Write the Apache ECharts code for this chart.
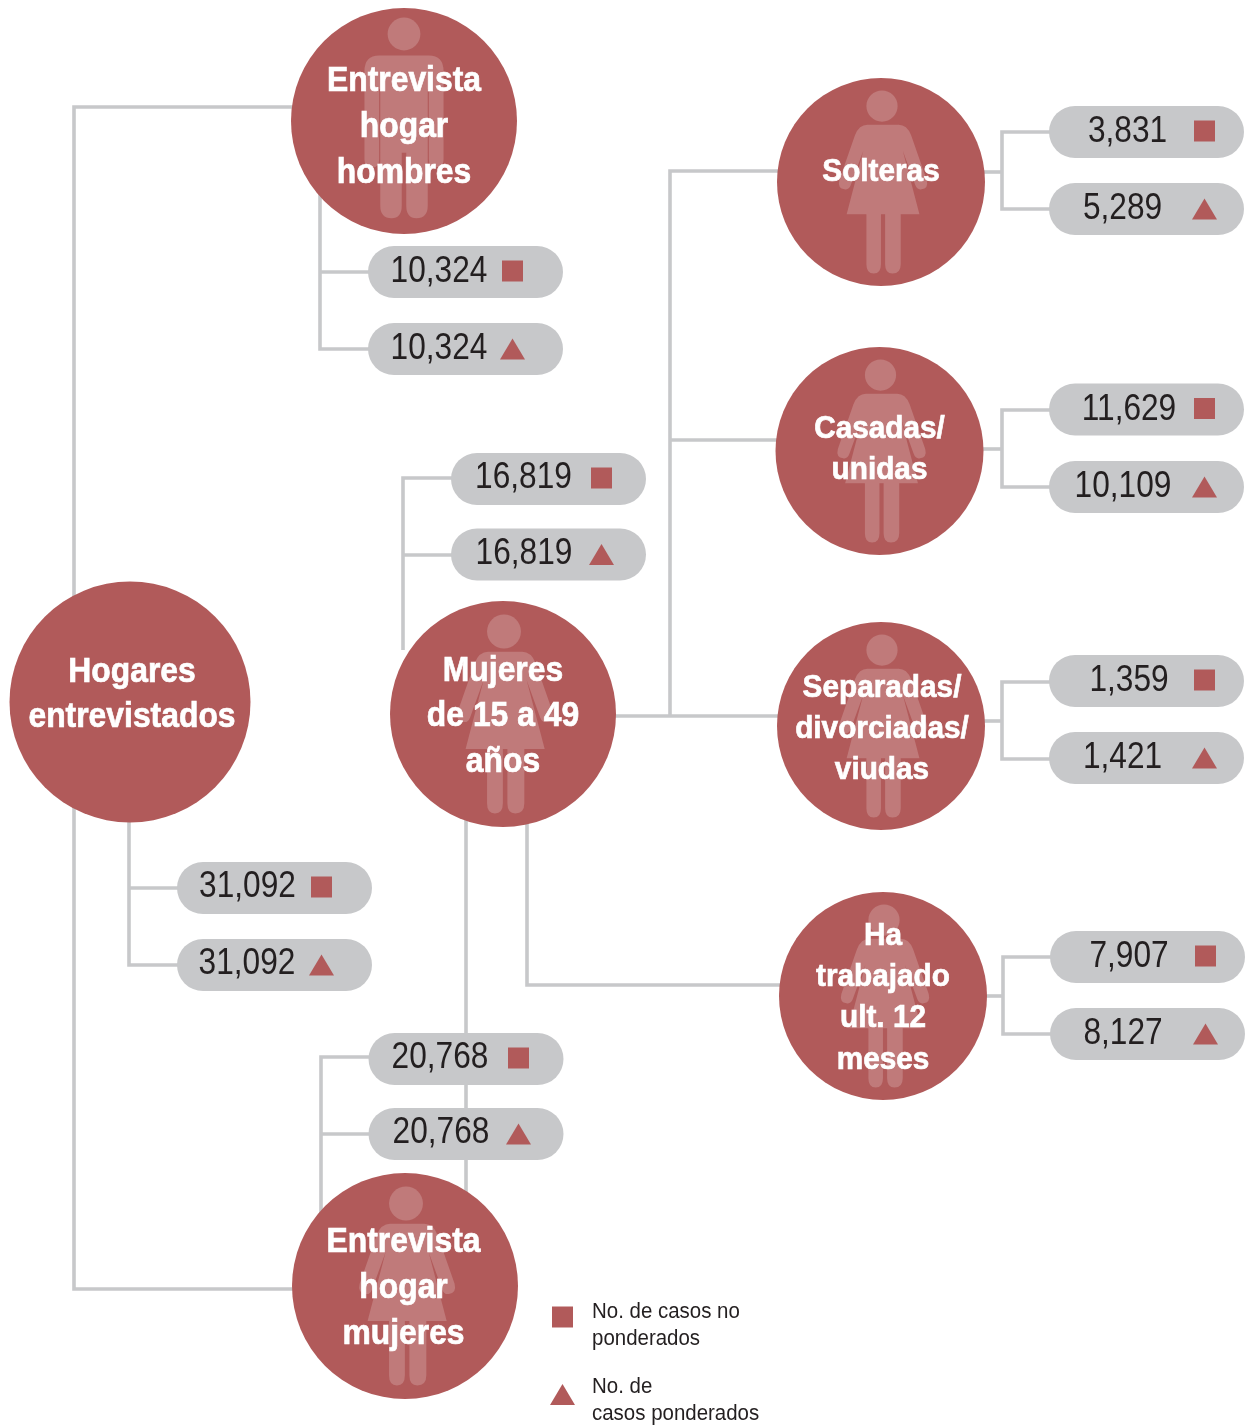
<!DOCTYPE html>
<html>
<head>
<meta charset="utf-8">
<style>html,body{margin:0;padding:0;background:#fff}#chart{width:1252px;height:1425px}</style>
<script src="https://cdn.jsdelivr.net/npm/echarts@6/dist/echarts.min.js"></script>
</head>
<body>
<div id="chart"></div>
<script>
// datos
var nodeNames = ['Hogares\nentrevistados', 'Entrevista\nhogar\nhombres', 'Mujeres\nde 15 a 49\naños', 'Entrevista\nhogar\nmujeres',
    'Solteras', 'Casadas/\nunidas', 'Separadas/\ndivorciadas/\nviudas', 'Ha\ntrabajado\nult. 12\nmeses'];
var noPonderados = [31092, 10324, 16819, 20768, 3831, 11629, 1359, 7907];
var ponderados = [31092, 10324, 16819, 20768, 5289, 10109, 1421, 8127];
var legendNames = ['No. de casos no\nponderados', 'No. de\ncasos ponderados'];

// posiciones en el lienzo, una fila por nodo
var RED = '#b15a5a', GREY = '#c7c8ca';
var nodePos = [ // x, y, radio, figura, x del texto, y del texto, interlinea, fuente
    [130, 702, 120.5, '', 132, 694.5, 45, 35],
    [404, 121, 113, 'h', 404, 127, 46, 35],
    [503, 714, 113, 'm', 503, 716.5, 45.5, 35],
    [405, 1286, 113, 'm', 403.5, 1288, 46, 35],
    [881, 182, 104, 'm', 881, 172, 41, 32],
    [879.5, 451, 104, 'm', 879.5, 449.5, 41, 32],
    [881, 726, 104, 'm', 882, 729, 41, 32],
    [883, 996, 104, 'm', 883, 998, 41.3, 32]
];
var pillPos = [ // izquierda, y fila 1, y fila 2, centro numero 1, centro numero 2, x marca, ajuste y del numero
    [177, 888, 965, 247.5, 247, 321.5, -2],
    [368, 272, 349, 439, 439, 512.5, -1],
    [451, 479, 554.5, 523.5, 524, 601.5, -2],
    [368.5, 1059, 1134, 440, 441, 518.5, -2],
    [1049, 132, 209, 1127.5, 1122.5, 1204.5, -1],
    [1049, 409.5, 487, 1129, 1123, 1204.5, -1],
    [1049, 681, 758, 1129, 1122.5, 1204.5, -1],
    [1050, 957, 1034, 1129, 1123, 1205.5, -1]
];
var connectors = [
    [[74, 600], [74, 107], [295, 107]],
    [[74, 805], [74, 1289], [295, 1289]],
    [[129, 815], [129, 965], [180, 965]],
    [[129, 888], [180, 888]],
    [[320, 190], [320, 349], [372, 349]],
    [[320, 272], [372, 272]],
    [[403, 650], [403, 478], [455, 478]],
    [[403, 555], [455, 555]],
    [[466, 820], [466, 1195]],
    [[527, 820], [527, 985], [785, 985]],
    [[321, 1215], [321, 1057], [372, 1057]],
    [[321, 1134], [372, 1134]],
    [[610, 716], [782, 716]],
    [[670, 716], [670, 171], [782, 171]],
    [[670, 440], [780, 440]],
    [[980, 172], [1002, 172]],
    [[1052, 132], [1002, 132], [1002, 209], [1052, 209]],
    [[980, 449], [1002, 449]],
    [[1052, 410], [1002, 410], [1002, 487], [1052, 487]],
    [[980, 721], [1002, 721]],
    [[1052, 682], [1002, 682], [1002, 759], [1052, 759]],
    [[982, 996], [1003, 996]],
    [[1053, 957], [1003, 957], [1003, 1034], [1053, 1034]]
];

// siluetas, unidades con radio 100
var BOX = 'M-130 -130L-130 -130M130 130L130 130';
var manPath = BOX + 'M-22 -58L22 -58Q35 -58 35 -44L35 34Q35 41 28 41Q22 41 22 34L22 -28L21 -28L21 75Q21 86 11 86Q2 86 2 75L2 28L-2 28L-2 75Q-2 86 -11 86Q-21 86 -21 75L-21 -28L-22 -28L-22 34Q-22 41 -28 41Q-35 41 -35 34L-35 -44Q-35 -58 -22 -58Z';
var womanPath = BOX + 'M-14 -55L16 -55Q24 -55 28 -45L43 -2Q45 6 38 7Q34 8 32 3L20 -30L36 31L18 31L18 79Q18 88 10 88Q3 88 3 79L3 31L-1 31L-1 79Q-1 88 -8 88Q-15 88 -15 79L-15 31L-34 31L-18 -30L-30 3Q-32 8 -36 7Q-43 6 -41 -2L-26 -45Q-22 -55 -14 -55Z';
var headY = {h: -77, m: -73}, headR = {h: 14.5, m: 15};

function fmt(v) {
    return String(v).replace(/\B(?=(\d{3})+$)/g, ',');
}

function textEl(api, x, y, text, font, fill, sx, lineHeight, stroke) {
    var p = api.coord([x, y]);
    return {
        type: 'text', x: p[0], y: p[1], scaleX: sx,
        style: {text: text, font: font, fill: fill, align: 'center', verticalAlign: 'middle', lineHeight: lineHeight,
            stroke: stroke || null, lineWidth: stroke ? 0.7 : 0}
    };
}

var BOLD = 'bold {s}px "Liberation Sans"';
var PLAIN = '{s}px "Liberation Sans"';

var markSquare = [], markTriangle = [];
pillPos.forEach(function (p) {
    markSquare.push([p[5], p[1] - 1]);
    markTriangle.push([p[5], p[2]]);
});

var option = {
    animation: false,
    backgroundColor: '#fff',
    grid: {left: 0, right: 0, top: 0, bottom: 0},
    xAxis: {type: 'value', min: 0, max: 1252, show: false},
    yAxis: {type: 'value', min: 0, max: 1425, inverse: true, show: false},
    series: [
        {
            name: 'conectores', type: 'custom', z: 1, silent: true,
            data: connectors.map(function (c, i) { return [c[0][0], c[0][1], i]; }),
            renderItem: function (params, api) {
                var pts = connectors[api.value(2)].map(function (q) { return api.coord(q); });
                return {type: 'polyline', shape: {points: pts}, style: {stroke: GREY, lineWidth: 3.6, fill: null}};
            }
        },
        {
            name: 'nodos', type: 'custom', z: 2, silent: true,
            data: nodePos.map(function (n) { return [n[0], n[1], n[2]]; }),
            renderItem: function (params, api) {
                var n = nodePos[params.dataIndex];
                var c = api.coord([api.value(0), api.value(1)]), r = api.value(2), s = r / 100;
                var kids = [{type: 'circle', shape: {cx: c[0], cy: c[1], r: r}, style: {fill: RED}}];
                if (n[3]) {
                    var dx = n[3] === 'm' ? 1 : 0;
                    kids.push({type: 'circle', shape: {cx: c[0] + dx, cy: c[1] + headY[n[3]] * s, r: headR[n[3]] * s}, style: {fill: '#c07a7a'}});
                    kids.push({
                        type: 'path',
                        shape: {pathData: n[3] === 'm' ? womanPath : manPath, x: c[0] + dx - 130 * s, y: c[1] - 130 * s, width: 260 * s, height: 260 * s, layout: 'cover'},
                        style: {fill: '#c07a7a'}
                    });
                }
                kids.push(textEl(api, n[4], n[5], nodeNames[params.dataIndex], BOLD.replace('{s}', n[7]), '#fff', n[7] === 35 ? 0.91 : 0.93, n[6], '#fff'));
                return {type: 'group', children: kids};
            }
        },
        {
            name: 'casos', type: 'custom', z: 3, silent: true,
            data: pillPos.map(function (p, i) { return [p[0], noPonderados[i], ponderados[i]]; }),
            renderItem: function (params, api) {
                var p = pillPos[params.dataIndex], kids = [];
                [[p[1], p[3], api.value(1)], [p[2], p[4], api.value(2)]].forEach(function (row) {
                    var a = api.coord([p[0], row[0] - 26]);
                    kids.push({type: 'rect', shape: {x: a[0], y: a[1], width: 195, height: 52, r: 26}, style: {fill: GREY}});
                    kids.push(textEl(api, row[1], row[0] + 1 + p[6], fmt(row[2]), PLAIN.replace('{s}', 37), '#231f20', 0.855));
                });
                return {type: 'group', children: kids};
            }
        },
        {
            name: legendNames[0], type: 'scatter', z: 4, silent: true, symbol: 'rect', symbolSize: 21,
            itemStyle: {color: RED, opacity: 1},
            data: markSquare.concat([[562.5, 1317]])
        },
        {
            name: legendNames[1], type: 'scatter', z: 4, silent: true, symbol: 'triangle', symbolSize: [25, 21],
            itemStyle: {color: RED, opacity: 1},
            data: markTriangle.concat([[562.5, 1394.5]])
        },
        {
            name: 'leyenda', type: 'custom', z: 4, silent: true,
            data: [[592, 1325.5, 0], [592, 1400.5, 1]],
            renderItem: function (params, api) {
                var p = api.coord([api.value(0), api.value(1)]);
                return {
                    type: 'text', x: p[0], y: p[1], scaleX: 0.93,
                    style: {text: legendNames[api.value(2)], font: PLAIN.replace('{s}', 22), fill: '#231f20', align: 'left', verticalAlign: 'middle', lineHeight: 27.5}
                };
            }
        }
    ]
};
var myChart = echarts.init(document.getElementById('chart'));
myChart.setOption(option);
</script>
</body>
</html>
